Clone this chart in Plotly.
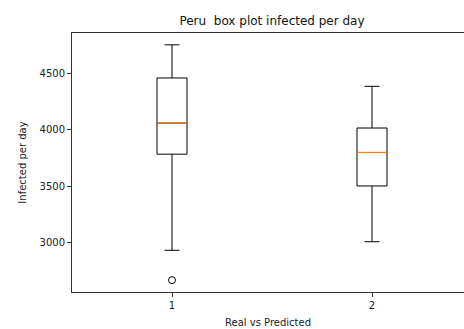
import plotly.graph_objects as go

# Box statistics for each group (1 = real, 2 = predicted)
positions = [1, 2]
q1 = [3783, 3501]
median = [4059, 3798]
q3 = [4459, 4015]
lower_whisker = [2930, 3006]
upper_whisker = [4753, 4385]
outlier_x = [1]
outlier_y = [2665]

y_ticks = [3000, 3500, 4000, 4500]
x_ticks = [1, 2]

BOX_WIDTH = 0.15
FONT = "DejaVu Sans"

fig = go.Figure()

fig.add_trace(go.Box(
    x=positions,
    q1=q1,
    median=median,
    q3=q3,
    lowerfence=lower_whisker,
    upperfence=upper_whisker,
    width=BOX_WIDTH,
    whiskerwidth=0.5,
    boxpoints=False,
    fillcolor="rgba(255,255,255,0)",
    line=dict(color="black", width=1),
    hoverinfo="skip",
    showlegend=False,
))

# Orange median lines drawn over the boxes
for p, m in zip(positions, median):
    fig.add_trace(go.Scatter(
        x=[p - BOX_WIDTH / 2, p + BOX_WIDTH / 2],
        y=[m, m],
        mode="lines",
        line=dict(color="#ff7f0e", width=1.2),
        hoverinfo="skip",
        showlegend=False,
    ))

# Fliers
fig.add_trace(go.Scatter(
    x=outlier_x,
    y=outlier_y,
    mode="markers",
    marker=dict(symbol="circle-open", size=7, color="black", line=dict(width=1)),
    hoverinfo="skip",
    showlegend=False,
))

fig.update_layout(
    width=464,
    height=329,
    margin=dict(l=72, r=0, t=33, b=37),
    paper_bgcolor="white",
    plot_bgcolor="white",
    font=dict(family=FONT, size=10, color="#222"),
    title=dict(
        text="Peru\u00a0 box plot infected per day",
        font=dict(family=FONT, size=12, color="#111"),
        x=272 / 464,
        xref="container",
        xanchor="center",
        y=1 - 20.5 / 329,
        yref="container",
        yanchor="middle",
    ),
    xaxis=dict(
        range=[0.5, 2.46],
        tickvals=x_ticks,
        ticktext=[str(t) for t in x_ticks],
        ticks="outside",
        ticklen=4,
        tickcolor="#333",
        showline=True,
        linecolor="#333",
        linewidth=1,
        mirror=True,
        showgrid=False,
        zeroline=False,
        title=dict(text="Real vs Predicted", standoff=8, font=dict(size=10)),
    ),
    yaxis=dict(
        range=[2560, 4858],
        tickvals=y_ticks,
        ticktext=[str(t) for t in y_ticks],
        ticks="outside",
        ticklen=4,
        tickcolor="#333",
        showline=True,
        linecolor="#333",
        linewidth=1,
        mirror=False,
        showgrid=False,
        zeroline=False,
        title=dict(text="Infected per day", standoff=11, font=dict(size=10)),
    ),
)

fig.write_html("out.html")
